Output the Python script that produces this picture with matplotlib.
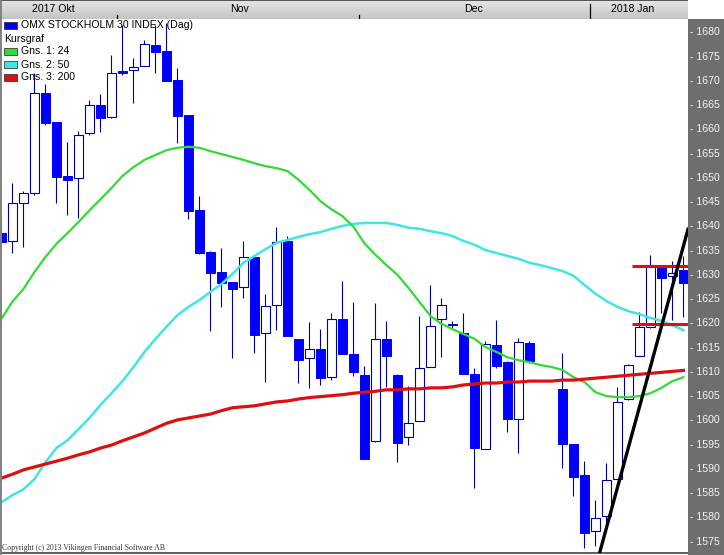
import matplotlib.pyplot as plt
import matplotlib.transforms as mtransforms
from matplotlib.patches import Rectangle
from matplotlib.lines import Line2D
from matplotlib.colors import LinearSegmentedColormap
import numpy as np

plt.rcParams['font.family'] = ['Liberation Sans', 'DejaVu Sans']

# daily candles, one slot per weekday (None = market closed)
opens = [1638.6, 1637.0, 1644.8, 1646.9, 1667.5, 1661.5, 1650.4, 1650.0, 1659.2, 1665.0, 1662.5,
         1672.0, 1672.2, 1673.0, 1677.4, 1676.1, 1670.2, 1662.9, 1643.3, 1634.7, 1630.6, 1628.5,
         1627.5, 1633.7, 1618.0, 1623.8, 1637.0, 1616.7, 1612.8, 1614.7, 1608.9, 1621.0, 1613.7,
         1609.3, 1595.7, 1616.7, 1609.3, 1596.5, 1599.8, 1611.0, 1621.0, 1619.9, 1618.0, 1609.5,
         1594.1, 1615.5, 1612.0, 1600.2, 1615.9, None, None, 1606.4, 1595.1, 1588.7,
         1577.2, 1580.3, 1587.9, 1604.4, 1613.3, 1619.2, 1631.6, 1629.8, 1631.0]
highs = [1641.3, 1649.0, 1647.2, 1671.6, 1669.3, 1661.6, 1657.4, 1659.6, 1666.0, 1667.3, 1675.3,
         1681.5, 1674.7, 1678.4, 1681.5, 1681.9, 1672.6, 1663.0, 1646.2, 1635.0, 1635.5, 1628.5,
         1637.0, 1634.0, 1626.0, 1639.8, 1638.0, 1616.8, 1620.3, 1618.8, 1622.1, 1628.7, 1624.5,
         1611.2, 1624.1, 1620.5, 1609.5, 1607.1, 1621.5, 1627.9, 1625.2, 1620.5, 1622.1, 1610.7,
         1616.4, 1620.7, 1612.2, 1616.9, 1616.4, None, None, 1613.8, 1595.2, 1591.6,
         1583.6, 1591.2, 1606.9, 1611.6, 1622.3, 1634.1, 1631.7, 1632.9, 1633.9]
lows = [1636.2, 1634.5, 1635.7, 1646.5, 1660.9, 1644.8, 1642.3, 1641.7, 1658.8, 1659.4, 1662.3,
        1671.2, 1665.4, 1673.0, 1671.6, 1670.0, 1657.2, 1641.5, 1634.3, 1618.4, 1623.4, 1612.8,
        1625.2, 1613.8, 1607.9, 1618.6, 1617.4, 1607.7, 1606.7, 1607.3, 1608.3, 1613.6, 1609.1,
        1592.0, 1595.6, 1606.9, 1591.4, 1594.9, 1599.8, 1610.9, 1613.1, 1619.0, 1609.6, 1586.0,
        1594.0, 1610.8, 1597.6, 1593.3, 1611.8, None, None, 1590.1, 1584.4, 1573.7,
        1574.1, 1578.8, 1587.9, 1604.3, 1613.2, 1619.0, 1622.1, 1620.7, 1621.3]
closes = [1636.8, 1644.8, 1646.9, 1667.5, 1661.3, 1650.2, 1649.6, 1658.8, 1665.0, 1662.3, 1671.6,
          1671.6, 1672.8, 1677.6, 1675.9, 1670.0, 1662.8, 1643.1, 1634.5, 1630.4, 1628.3, 1627.1,
          1633.7, 1617.6, 1623.6, 1636.7, 1617.4, 1612.5, 1614.7, 1608.7, 1620.8, 1613.7, 1610.0,
          1592.0, 1616.7, 1613.3, 1595.3, 1599.4, 1610.7, 1619.4, 1623.8, 1619.7, 1609.6, 1594.3,
          1615.7, 1611.2, 1600.2, 1616.1, 1612.2, None, None, 1595.1, 1588.3, 1576.8,
          1579.9, 1587.7, 1603.8, 1611.4, 1619.2, 1632.0, 1629.3, 1630.4, 1628.3]

# moving averages (Gns. 1: 24, Gns. 2: 50, Gns. 3: 200)
ma24 = [1621.0, 1624.5, 1627.1, 1630.6, 1633.7, 1636.4, 1638.6, 1640.9, 1643.3, 1645.6, 1647.9,
        1650.4, 1652.2, 1653.7, 1654.7, 1655.7, 1656.2, 1656.4, 1656.2, 1655.5, 1654.9, 1654.3,
        1653.7, 1653.0, 1652.4, 1652.0, 1651.4, 1649.6, 1647.5, 1645.2, 1643.5, 1642.1, 1639.9,
        1636.5, 1634.1, 1632.0, 1630.0, 1627.3, 1624.4, 1621.5, 1619.9, 1618.8, 1617.8, 1616.8,
        1615.1, 1614.1, 1613.0, 1612.4, 1612.0, 1611.4, 1611.0, 1610.4, 1608.9, 1607.9,
        1605.8, 1605.0, 1604.8, 1604.8, 1605.0, 1605.6, 1606.7, 1608.1, 1608.9]
ma50 = [1583.1, 1584.6, 1585.8, 1587.9, 1591.4, 1594.3, 1595.9, 1598.2, 1600.5, 1603.2, 1605.6,
        1608.1, 1611.0, 1614.1, 1616.8, 1619.3, 1621.7, 1623.4, 1624.8, 1626.5, 1628.1, 1630.2,
        1632.5, 1633.9, 1635.3, 1636.6, 1637.2, 1637.8, 1638.4, 1638.8, 1639.5, 1640.1, 1640.5,
        1640.7, 1640.7, 1640.7, 1640.3, 1639.7, 1639.5, 1639.0, 1638.6, 1638.0, 1637.0, 1636.2,
        1635.1, 1634.5, 1633.9, 1633.3, 1632.5, 1632.0, 1631.4, 1630.8, 1629.8, 1627.9,
        1626.1, 1624.6, 1623.4, 1622.5, 1621.9, 1621.1, 1620.5, 1619.6, 1618.6]
ma200 = [1588.1, 1588.9, 1589.8, 1590.4, 1591.0, 1591.6, 1592.2, 1592.9, 1593.5, 1594.3, 1594.9,
         1595.8, 1596.6, 1597.4, 1598.4, 1599.4, 1600.1, 1600.5, 1600.9, 1601.3, 1602.0, 1602.6,
         1602.8, 1603.0, 1603.4, 1603.8, 1604.0, 1604.4, 1604.7, 1604.9, 1605.1, 1605.3, 1605.6,
         1605.8, 1606.0, 1606.3, 1606.3, 1606.5, 1606.5, 1606.7, 1606.7, 1606.9, 1607.3, 1607.5,
         1607.7, 1607.7, 1607.9, 1607.9, 1608.1, 1608.1, 1608.1, 1608.3, 1608.3, 1608.5,
         1608.7, 1608.9, 1609.1, 1609.3, 1609.5, 1609.7, 1609.9, 1610.1, 1610.3]

month_labels = ['2017 Okt', 'Nov', 'Dec', '2018 Jan']
month_starts = [0, 11, 33, 54]
y_ticks = list(range(1575, 1685, 5))

# drawn trend line and horizontal levels
trend_x = [54.4, 62.41]
trend_y = [1572.9, 1639.4]
level_values = [1631.8, 1619.9]
level_from = 57.3

W, H = 724, 555
fig = plt.figure(figsize=(W / 100, H / 100), dpi=100)

def fx(x):
    return x / W

def fy(y):
    return 1 - y / H

ax = fig.add_axes([fx(1), fy(553), fx(687), (553 - 19) / H])
ax.set_xlim(-0.045, 62.41)
ax.set_ylim(1572.66, 1682.74)
ax.set_xticks([])
ax.set_yticks([])
for s in ['top', 'right', 'left']:
    ax.spines[s].set_visible(False)
ax.spines['bottom'].set_color('#444444')
ax.spines['bottom'].set_linewidth(1.2)

wick_col = '#00009C'
fill_col = '#0000FF'
bw = 0.8
for i in range(len(opens)):
    o, h, l, c = opens[i], highs[i], lows[i], closes[i]
    if o is None:
        continue
    ax.vlines(i, l, h, color=wick_col, lw=0.8, zorder=2)
    bottom = min(o, c)
    height = max(abs(c - o), 0.15)
    if c < o:
        ax.add_patch(Rectangle((i - bw / 2, bottom), bw, height, facecolor=fill_col,
                               edgecolor=fill_col, lw=0.7, zorder=2.1))
    else:
        ax.add_patch(Rectangle((i - bw / 2, bottom), bw, height, facecolor='white',
                               edgecolor=wick_col, lw=0.8, zorder=2.1))

slots = np.arange(len(ma24))
green = '#35D935'
cyan = '#40E5E5'
red = '#DD1010'
ax.plot(slots, ma50, color=cyan, lw=1.8, zorder=3)
ax.plot(slots, ma24, color=green, lw=1.6, zorder=3)
ax.plot(slots, ma200, color=red, lw=2.3, zorder=3)

for v in level_values:
    ax.plot([level_from, 62.41], [v, v], color=red, lw=2.2, zorder=4, solid_capstyle='butt')
ax.plot(trend_x, trend_y, color='black', lw=2.4, zorder=5)

# header band with months
hdr = fig.add_axes([fx(1), fy(19), fx(687), 19 / H], sharex=ax)
grad = np.linspace(0, 1, 50).reshape(-1, 1)
cmap = LinearSegmentedColormap.from_list('hdr', ['#C4C4C4', '#E6E6E6'])
hdr.imshow(grad, extent=(-0.045, 62.41, 0, 1), aspect='auto', cmap=cmap, origin='lower')
hdr.set_xlim(-0.045, 62.41)
hdr.set_ylim(0, 1)
hdr.set_xticks([])
hdr.set_yticks([])
for s in hdr.spines.values():
    s.set_visible(False)
hdr.axhline(1, color='#3A3A3A', lw=1.2)
label_x = [4.7, 21.6, 42.9, 57.4]
for lab, xc in zip(month_labels, label_x):
    hdr.text(xc, 0.5, lab, ha='center', va='center', fontsize=7.6, color='black')
for k, ms in enumerate(month_starts[1:]):
    top = 0.78 if month_labels[k + 1].startswith('20') else 0.22
    hdr.plot([ms - 0.5, ms - 0.5], [0, top], color='black', lw=0.9)

# right value panel
fig.patches.append(Rectangle((fx(688), 0), fx(36), (H - 19) / H, transform=fig.transFigure,
                             facecolor='#6E6E6E', edgecolor='none', zorder=1))
tr = mtransforms.blended_transform_factory(fig.transFigure, ax.transData)
for v in y_ticks:
    fig.text(fx(690), v, '- %d' % v, transform=tr, ha='left', va='center',
             fontsize=7.6, color='#F4F4F4', zorder=4)

# left border
fig.add_artist(Line2D([fx(0.8), fx(0.8)], [0, 1], color='#808080', lw=1.4))

# legend
rows = [('OMX STOCKHOLM 30 INDEX (Dag)', '#0000EE'), ('Kursgraf', None),
        ('Gns. 1: 24', green), ('Gns. 2: 50', cyan), ('Gns. 3: 200', red)]
for k, (txt, col) in enumerate(rows):
    yc = 25.5 + 13 * k
    if col is None:
        fig.text(fx(4), fy(yc), txt, ha='left', va='center', fontsize=7.6, zorder=6)
    else:
        fig.patches.append(Rectangle((fx(4), fy(yc + 3.5)), fx(13), 7 / H, transform=fig.transFigure,
                                     facecolor=col, edgecolor='#202020', lw=0.5, zorder=6))
        fig.text(fx(21), fy(yc), txt, ha='left', va='center', fontsize=7.6, zorder=6)

fig.text(fx(2), fy(547.5), 'Copyright (c) 2013 Vikingen Financial Software AB', ha='left', va='center',
         fontsize=5.6, family='Liberation Serif', color='#333333')

fig.savefig('out.png', dpi=100)
